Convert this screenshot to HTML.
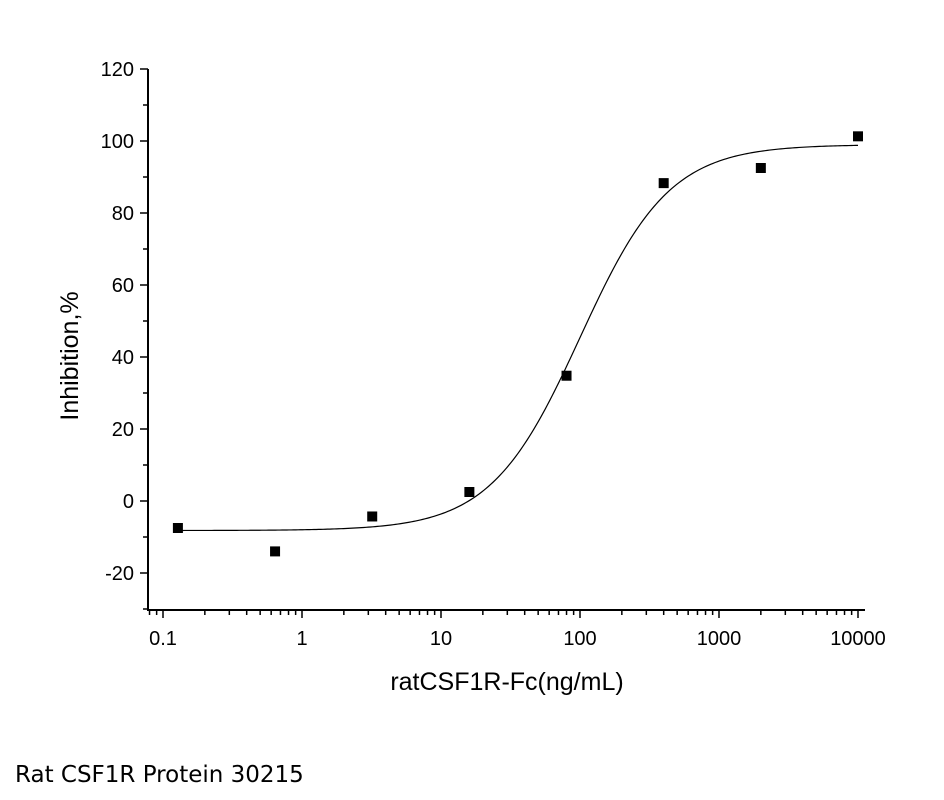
<!DOCTYPE html>
<html><head><meta charset="utf-8"><style>
body{margin:0;background:#fff;}
svg{display:block;font-family:"Liberation Sans",sans-serif;}
</style></head><body>
<svg id="chart" width="944" height="800"></svg>
<script>
const xValues=[0.128,0.64,3.2,16,80,400,2000,10000];
const yValues=[-7.5,-14,-4.3,2.5,34.8,88.3,92.5,101.3];
const yTicks=[-20,0,20,40,60,80,100,120];
const xTicks=[0.1,1,10,100,1000,10000];
const xTickLabels=["0.1","1","10","100","1000","10000"];
const fitBottom=-8.2, fitTop=99, fitEC50=100, fitHill=1.35;

const NS="http://www.w3.org/2000/svg";
const svg=document.getElementById('chart');
const X0=148,X1=865,Y0=610,Y1=69;
const xs=v=>163+139*Math.log10(v/0.1);
const ys=v=>501-3.6*v;
function el(t,a,p){const e=document.createElementNS(NS,t);for(const k in a)e.setAttribute(k,a[k]);(p||svg).appendChild(e);return e;}

const ax=el('g',{});


const yl=el('line',{x1:X0,y1:Y1,x2:X0,y2:Y0+1,stroke:'#000','stroke-width':2},ax);


const xl=el('line',{x1:X0-1,y1:Y0,x2:X1,y2:Y0,stroke:'#000','stroke-width':2},ax);


for(let v=-30;v<=120;v+=10){
  const major=yTicks.includes(v);
  el('line',{x1:X0-(major?8:5),x2:X0,y1:ys(v),y2:ys(v),stroke:'#000','stroke-width':1.5},ax);
}
yTicks.forEach(v=>{
  const t=el('text',{x:X0-14,y:ys(v)+7,'text-anchor':'end','font-size':20},ax);
  t.textContent=v;
  
  
});
for(let d=-2;d<=4;d++){
  for(let m=1;m<=9;m++){
    const v=m*Math.pow(10,d);
    const px=xs(v);
    if(px<X0||px>X1)continue;
    el('line',{x1:px,x2:px,y1:Y0,y2:Y0+(m===1?8:5),stroke:'#000','stroke-width':1.5},ax);
  }
}
xTicks.forEach((v,i)=>{
  const t=el('text',{x:xs(v),y:Y0+35,'text-anchor':'middle','font-size':20},ax);
  t.textContent=xTickLabels[i];
  
  
});
const xt=el('text',{x:507,y:690,'text-anchor':'middle','font-size':25});
xt.textContent='ratCSF1R-Fc(ng/mL)';


const yt=el('text',{x:0,y:0,'text-anchor':'middle','font-size':25,transform:'translate(78,356) rotate(-90)'});
yt.textContent='Inhibition,%';



let d='';
for(let i=0;i<=300;i++){
  const lx=Math.log10(0.128)+i*(Math.log10(10000)-Math.log10(0.128))/300;
  const x=Math.pow(10,lx);
  const y=fitBottom+(fitTop-fitBottom)/(1+Math.pow(fitEC50/x,fitHill));
  d+=(i?'L':'M')+xs(x).toFixed(2)+','+ys(y).toFixed(2);
}
const c=el('path',{d:d,fill:'none',stroke:'#000','stroke-width':1.2});


xValues.forEach((x,i)=>{
  const r=el('rect',{x:xs(x)-5,y:ys(yValues[i])-5,width:10,height:10,fill:'#000'});
  
  
});
const cap=el('text',{x:15,y:782,'font-size':23,'font-family':'"DejaVu Sans",sans-serif'});
cap.textContent='Rat CSF1R Protein 30215';


</script>
</body></html>
